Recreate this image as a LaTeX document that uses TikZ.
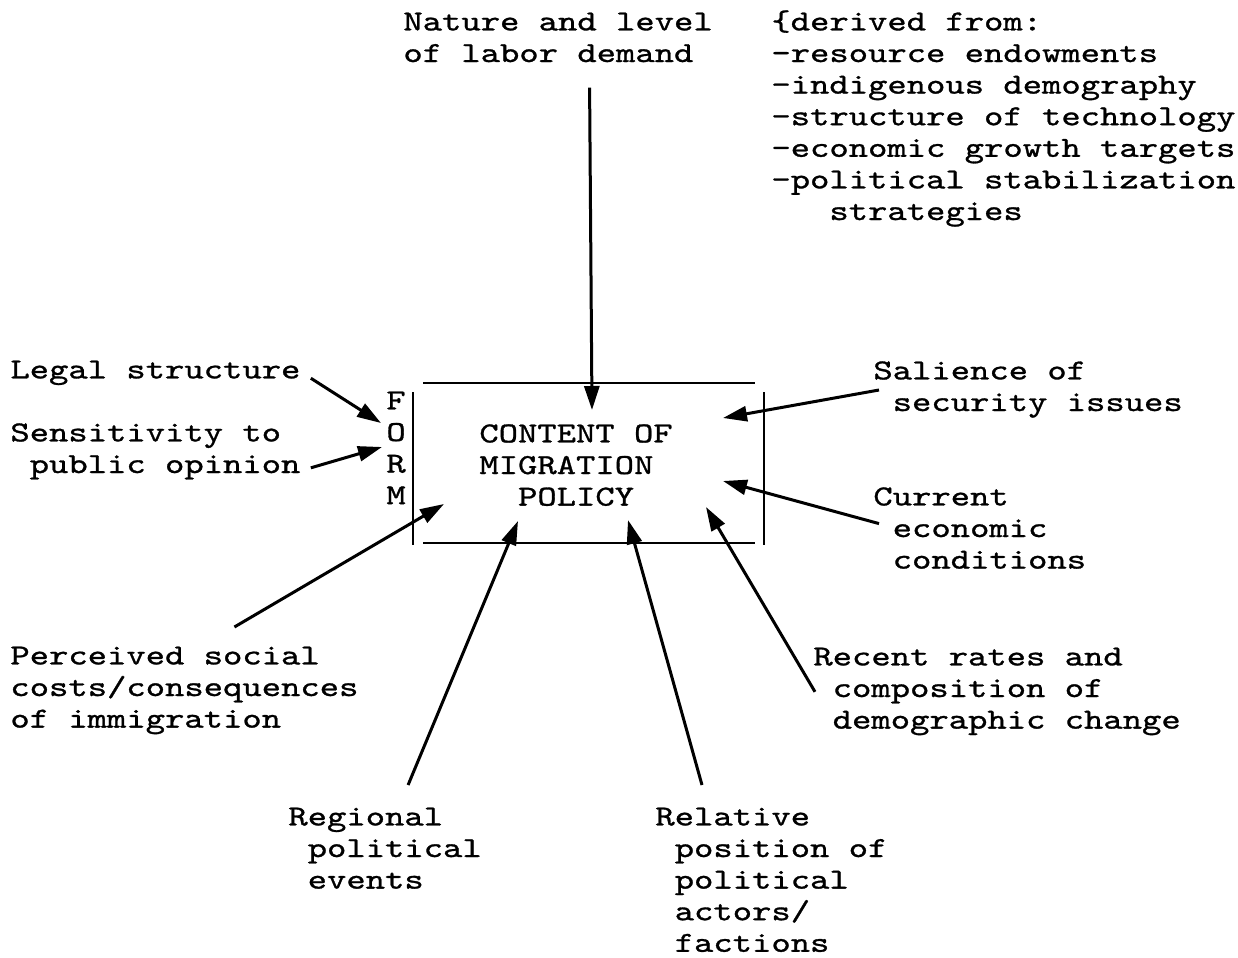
\documentclass[tikz,border=0pt]{standalone}
\usepackage{fontspec}
\newfontfamily\courierfont[FakeBold=1.0, FakeStretch=1.27]{lmmono10-regular.otf}
\usetikzlibrary{arrows.meta}

\newcommand\lnstrut{\rule{0pt}{13.5pt}}
\newcommand\ind{\phantom{x}}
\setlength\lineskiplimit{-20pt}

\tikzset{
  factor/.style={anchor=north west, inner sep=0pt, align=left,
    font=\courierfont\fontsize{14.5}{15.8}\selectfont},
  influence/.style={-{Triangle[length=12pt,width=7.5pt]}, line width=1.5pt},
  frame/.style={line width=1.3pt}
}

\begin{document}
\begin{tikzpicture}[x=0.5pt, y=-0.5pt]
    \useasboundingbox (0,0) rectangle (1238,958);

    % Labor demand (top)
    \node[factor] (demand) at (403,3) {\lnstrut Nature and level\\of labor demand};
    \node[factor] (derived) at (771,3) {\lnstrut\{derived from:\\-resource endowments\\-indigenous demography\\-structure of technology\\-economic growth targets\\-political stabilization\\\ind\ind\ind strategies};

    % Policy box
    \node[factor] (form) at (386,382) {\lnstrut F\\O\\R\\M};
    \node[factor] (policy) at (479,415) {\lnstrut CONTENT OF\\MIGRATION\\\ind\ind POLICY};
    \draw[frame] (423,383) -- (755,383);
    \draw[frame] (423,543) -- (755,543);
    \draw[frame] (413,392) -- (413,545);
    \draw[frame] (764,392) -- (764,545);

    % Arrow tips
    \coordinate (tipLegal) at (381,423);
    \coordinate (tipOpinion) at (382,447);
    \coordinate (tipDemand) at (592,410);
    \coordinate (tipSecurity) at (723,418);
    \coordinate (tipEconomy) at (723,481);
    \coordinate (tipSocial) at (444,504);
    \coordinate (tipRegional) at (518,521);
    \coordinate (tipActors) at (628,520);
    \coordinate (tipRates) at (706,507);

    % Left side
    \node[factor] (legal) at (10,351) {\lnstrut Legal structure};
    \node[factor] (opinion) at (10,414) {\lnstrut Sensitivity to\\\ind public opinion};
    \node[factor] (social) at (10,637) {\lnstrut Perceived social\\costs/consequences\\of immigration};

    % Right side
    \node[factor] (security) at (873,352) {\lnstrut Salience of\\\ind security issues};
    \node[factor] (economy) at (873,478) {\lnstrut Current\\\ind economic\\\ind conditions};
    \node[factor] (rates) at (813,638) {\lnstrut Recent rates and\\\ind composition of\\\ind demographic change};

    % Bottom
    \node[factor] (regional) at (288,798) {\lnstrut Regional\\\ind political\\\ind events};
    \node[factor] (actors) at (655,798) {\lnstrut Relative\\\ind position of\\\ind political\\\ind actors/\\\ind factions};

    % Connections
    \draw[influence] ([xshift=15.75pt,yshift=-12.5pt]demand.south) -- (tipDemand);
    \draw[influence] ([xshift=5pt,yshift=-5pt]legal.east) -- (tipLegal);
    \draw[influence] ([xshift=5pt,yshift=6pt]opinion.south east) -- (tipOpinion);
    \draw[influence] ([xshift=3pt,yshift=-2.5pt]security.west) -- (tipSecurity);
    \draw[influence] ([xshift=3pt]economy.west) -- (tipEconomy);
    \draw[influence] ([xshift=25pt,yshift=5pt]social.north) -- (tipSocial);
    \draw[influence] ([xshift=11.5pt,yshift=6.5pt]regional.north) -- (tipRegional);
    \draw[influence] ([xshift=23.5pt,yshift=6.5pt]actors.north west) -- (tipActors);
    \draw[influence] ([xshift=1pt,yshift=-2.5pt]rates.west) -- (tipRates);
\end{tikzpicture}
\end{document}
